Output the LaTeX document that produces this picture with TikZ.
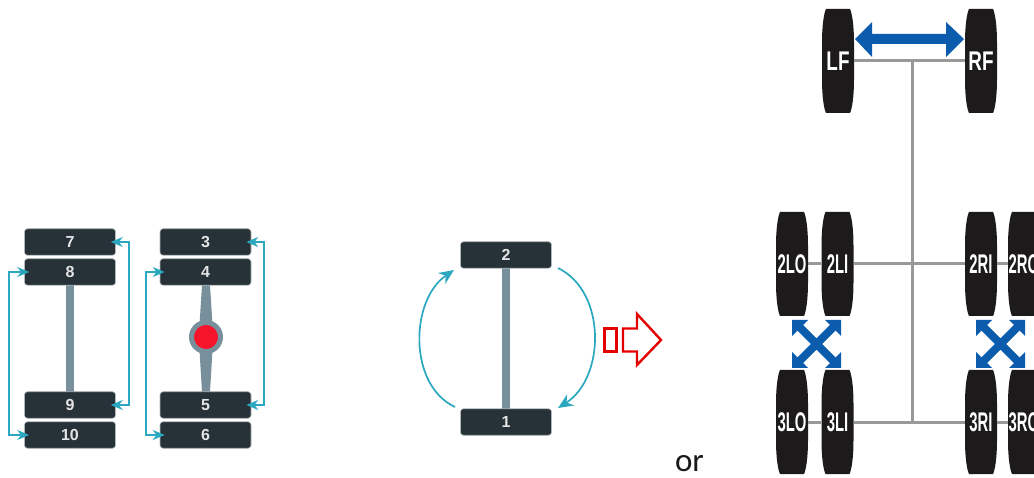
\documentclass[tikz,border=0pt]{standalone}
\usepackage{fontspec}
\setmainfont{Carlito}
\newfontfamily\boxfont{Liberation Sans}[BoldFont=* Bold]
\newfontfamily\tyrewide{Liberation Sans Bold}[FakeStretch=0.7]
\newfontfamily\tyrenarrow{Liberation Sans Bold}[FakeStretch=0.55]
\usetikzlibrary{arrows.meta}
\definecolor{boxdark}{HTML}{263238}
\definecolor{axlegrey}{HTML}{78909C}
\definecolor{rotcyan}{HTML}{2BA8C0}
\definecolor{tyreblack}{HTML}{1C1A1B}
\definecolor{shaft}{HTML}{999999}
\definecolor{crossblue}{HTML}{0B5CAD}
\definecolor{hubred}{HTML}{F5142A}
\tikzset{
  posbox/.style={fill=boxdark,draw=boxdark!35,line width=.6pt,rounded corners=3pt,minimum width=91pt,minimum height=26.5pt,inner sep=0pt,text=white!90!black,font=\boxfont\bfseries\fontsize{16}{16}\selectfont},
  axlebar/.style={axlegrey,line width=8pt},
  rotline/.style={rotcyan,line width=1.7pt,{Stealth[length=12pt,width=10pt]}-{Stealth[length=12pt,width=10pt]},shorten >=-5pt,shorten <=-5pt},
  rotarc/.style={rotcyan,line width=1.7pt,-{Stealth[length=15pt,width=13pt]}},
  tyrenode/.style={minimum width=32pt,minimum height=104pt,inner sep=0pt,text=white},
  wideface/.style={font=\tyrewide\fontsize{27}{27}\selectfont},
  narrowface/.style={font=\tyrenarrow\fontsize{27}{27}\selectfont},
  shaftline/.style={shaft,line width=3pt},
  redicon/.style={draw=red!90!black,fill=white,line width=2.4pt,line join=miter},
}
% name, centre x, centre y, label, face style
\newcommand\tyrepic[5]{%
  \begin{scope}[shift={(#2,#3)}]
    \fill[tyreblack] (-12,-52) -- (12,-52) .. controls (14,-48) and (16,-36) .. (16,-18) -- (16,18) .. controls (16,36) and (14,48) .. (12,52) -- (-12,52) .. controls (-14,48) and (-16,36) .. (-16,18) -- (-16,-18) .. controls (-16,-36) and (-14,-48) .. (-12,-52) -- cycle;
    \node[tyrenode,#5] (#1) at (0,0) {#4};
  \end{scope}}
\newcommand\crosspic[2]{%
  \begin{scope}[shift={(#1,#2)}]
    \draw[crossblue,line width=8pt] (-20,-20) -- (20,20) (-20,20) -- (20,-20);
    \fill[crossblue] (-24.5,-24) -- (-8.5,-24) -- (-24.5,-8) -- cycle;
    \fill[crossblue] (24.5,-24) -- (8.5,-24) -- (24.5,-8) -- cycle;
    \fill[crossblue] (-24.5,24) -- (-8.5,24) -- (-24.5,8) -- cycle;
    \fill[crossblue] (24.5,24) -- (8.5,24) -- (24.5,8) -- cycle;
  \end{scope}}
\begin{document}
\begin{tikzpicture}[x=1pt,y=-1pt]
\clip (0,0) rectangle (1034,478);
\fill[white] (0,0) rectangle (1034,478);

% left diagram: axles first
\coordinate (a8) at (69.5,285); \coordinate (a9) at (69.5,392);
\draw[axlebar] (a8) -- (a9);
\coordinate (a4) at (206,285); \coordinate (a5) at (206,392);
\draw[axlebar] (a4) -- (a5);
\fill[axlegrey] (202,285) -- (210,285) -- (212.5,325) -- (199.5,325) -- cycle;
\fill[axlegrey] (202,392) -- (210,392) -- (212.5,350) -- (199.5,350) -- cycle;
\node[circle,fill=hubred,draw=axlegrey,line width=5pt,minimum size=29pt,inner sep=0pt] (hub) at (206,337) {};

\node[posbox] (b7) at (70,242) {7};
\node[posbox] (b8) at (70,272) {8};
\node[posbox] (b9) at (70,405) {9};
\node[posbox] (b10) at (70,435) {10};
\node[posbox] (b3) at (205.5,242) {3};
\node[posbox] (b4) at (205.5,272) {4};
\node[posbox] (b5) at (205.5,405) {5};
\node[posbox] (b6) at (205.5,435) {6};

\draw[rotline] (b8.west) -- ++(-15,0) |- (b10.west);
\draw[rotline] (b7.east) -- ++(13,0) |- (b9.east);
\draw[rotline] (b4.west) -- ++(-14,0) |- (b6.west);
\draw[rotline] (b3.east) -- ++(13,0) |- (b5.east);

% middle diagram
\coordinate (a2) at (505.5,268); \coordinate (a1) at (505.5,409);
\draw[axlebar] (a2) -- (a1);
\node[posbox] (b2) at (506,255) {2};
\node[posbox] (b1) at (506,422) {1};
\coordinate (ls) at (455,407); \coordinate (le) at (454,270);
\coordinate (rs) at (558,268); \coordinate (re) at (558,408);
\draw[rotarc] (ls) .. controls (408,385) and (410,300) .. (le);
\draw[rotarc] (rs) .. controls (607,292) and (605,378) .. (re);

% red arrow icon
\draw[redicon] (604.5,328.5) rectangle (616.5,351.5);
\draw[redicon] (623,328.5) -- (637,328.5) -- (637,314) -- (661,340) -- (637,365) -- (637,351.5) -- (623,351.5) -- cycle;

\node[font=\fontsize{33}{33}\selectfont,text=black!90] (ortext) at (689.5,464) {or};

% right diagram
\tyrepic{wLF}{838}{61}{LF}{wideface}
\tyrepic{wRF}{981}{61}{RF}{wideface}
\tyrepic{w2LO}{792}{264}{2LO}{narrowface}
\tyrepic{w2LI}{837.5}{264}{2LI}{narrowface}
\tyrepic{w2RI}{981}{264}{2RI}{narrowface}
\tyrepic{w2RO}{1024}{264}{2RO}{narrowface}
\tyrepic{w3LO}{792}{422}{3LO}{narrowface}
\tyrepic{w3LI}{837.5}{422}{3LI}{narrowface}
\tyrepic{w3RI}{981}{422}{3RI}{narrowface}
\tyrepic{w3RO}{1024}{422}{3RO}{narrowface}

\coordinate (jf) at (912.5,61); \coordinate (jr) at (912.5,422);
\draw[shaftline] (wLF) -- (wRF);
\draw[shaftline] (jf) -- (jr);
\draw[shaftline] (w2LO) -- (w2LI);
\draw[shaftline] (w2LI) -- (w2RI);
\draw[shaftline] (w2RI) -- (w2RO);
\draw[shaftline] (w3LO) -- (w3LI);
\draw[shaftline] (w3LI) -- (w3RI);
\draw[shaftline] (w3RI) -- (w3RO);

\fill[crossblue] (855,39) -- (872,22) -- (872,34) -- (946,34) -- (946,22) -- (964,39) -- (946,57) -- (946,44) -- (872,44) -- (872,57) -- cycle;
\crosspic{816.5}{344}
\crosspic{1000.5}{344}
\end{tikzpicture}
\end{document}
